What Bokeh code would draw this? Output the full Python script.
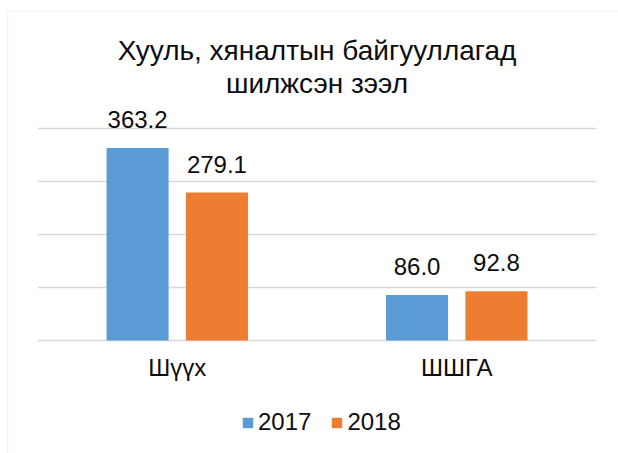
from bokeh.plotting import figure
from bokeh.models import (ColumnDataSource, Range1d, LabelSet, Label,
                          Legend, LegendItem, BoxAnnotation)
from bokeh.transform import dodge
from bokeh.core.properties import value
from bokeh.embed import file_html
from bokeh.resources import INLINE

# ---- data ----
categories = ["Шүүх", "ШШГА"]
years = ["2017", "2018"]
values_2017 = [363.2, 86.0]
values_2018 = [279.1, 92.8]
y_ticks = [0, 100, 200, 300, 400]
title_lines = ["Хууль, хяналтын байгууллагад", "шилжсэн зээл"]

BLUE = "#5B9BD5"
ORANGE = "#ED7D31"
GRID = "#D9D9D9"
TEXT = "#0d0d0d"
FONT = "Liberation Sans"

W, H = 618, 453
n = len(categories)
idx = list(range(n))

src = ColumnDataSource(dict(
    i=idx,
    cat=categories,
    v17=values_2017,
    v18=values_2018,
    l17=[f"{v:.1f}" for v in values_2017],
    l18=[f"{v:.1f}" for v in values_2018],
))

# plot-area geometry (pixels inside the canvas)
plot_left, plot_right = 37, 596
base_px, top_px = 340, 128          # y pixel of 0 and of the top tick
xs = (plot_right - plot_left) / n    # px per category
ys = (base_px - top_px) / y_ticks[-1]  # px per unit

x_range = Range1d(-0.5 - plot_left / xs, n - 0.5 + (W - plot_right) / xs)
y_range = Range1d(-(H - base_px) / ys, base_px / ys)

p = figure(width=W, height=H, x_range=x_range, y_range=y_range,
           output_backend="svg", toolbar_location=None,
           min_border=0, min_border_left=0, min_border_right=0,
           min_border_top=0, min_border_bottom=0)
p.axis.visible = False
p.grid.visible = False
p.outline_line_color = None
p.background_fill_color = "white"
p.border_fill_color = "white"

# gridlines across the category area
p.segment(x0=[-0.5] * len(y_ticks), x1=[n - 0.5] * len(y_ticks), y0=y_ticks, y1=y_ticks,
          line_color=GRID, line_width=1.5)

off = 0.142
bw = 0.222
r17 = p.vbar(x=dodge("i", -off), top="v17", width=bw, source=src,
             fill_color=BLUE, line_color=None)
r18 = p.vbar(x=dodge("i", off), top="v18", width=bw, source=src,
             fill_color=ORANGE, line_color=None)

for col, lab, o in [("v17", "l17", -off), ("v18", "l18", off)]:
    p.add_layout(LabelSet(x=dodge("i", o), y=col, text=lab, source=src,
                          y_offset=20, text_align="center", text_baseline="alphabetic",
                          text_font=value(FONT), text_font_size="24px", text_color=TEXT))

# category labels (x axis)
src_cat = ColumnDataSource(dict(i=idx, cat=categories, zero=[0] * n))
p.add_layout(LabelSet(x="i", y="zero", text="cat", source=src_cat,
                      y_offset=-35, text_align="center", text_baseline="alphabetic",
                      text_font=value(FONT), text_font_size="24px", text_color=TEXT))

# title
title_center = (plot_left + plot_right) / 2
for txt, base in zip(title_lines, [50, 83]):
    p.add_layout(Label(x=title_center, y=H - base, x_units="screen", y_units="screen",
                       text=txt, text_align="center", text_baseline="alphabetic",
                       text_font=FONT, text_font_size="28px", text_color=TEXT))

# legend
legend = Legend(items=[LegendItem(label=years[0], renderers=[r17]),
                       LegendItem(label=years[1], renderers=[r18])],
                orientation="horizontal", location=(241, 17),
                glyph_width=13, glyph_height=13, label_standoff=4, spacing=19,
                padding=0, margin=0, border_line_color=None, background_fill_alpha=0,
                label_text_font=FONT, label_text_font_size="24px", label_text_color=TEXT)
p.add_layout(legend, "center")

# chart border
p.add_layout(BoxAnnotation(left=7, right=W + 50, top=11, bottom=H + 50,
                           left_units="canvas", right_units="canvas",
                           top_units="canvas", bottom_units="canvas",
                           fill_alpha=0, line_color=GRID, line_width=1.5))

open("out.html", "w").write(file_html(p, INLINE))
